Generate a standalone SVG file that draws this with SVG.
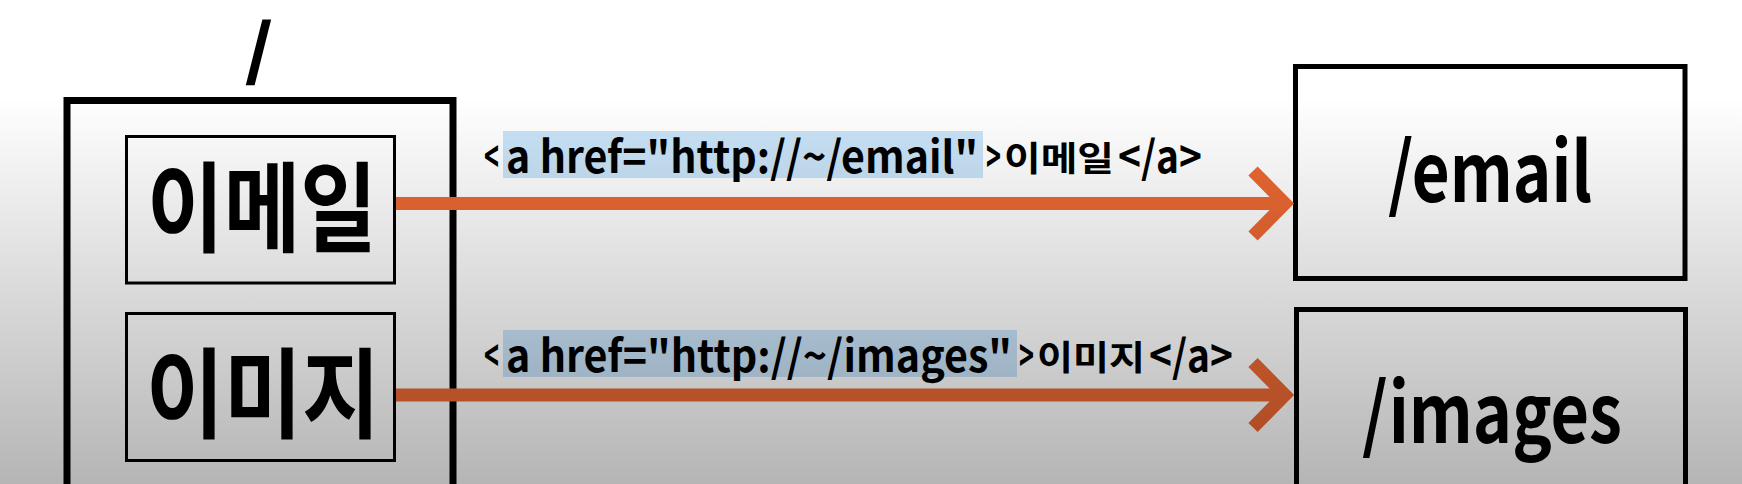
<svg xmlns="http://www.w3.org/2000/svg" width="1742" height="484" viewBox="0 0 1742 484">
  <defs>
    <linearGradient id="shade" x1="0" y1="0" x2="0" y2="484" gradientUnits="userSpaceOnUse">
      <stop offset="0" stop-color="#000" stop-opacity="0"/>
      <stop offset="0.2" stop-color="#000" stop-opacity="0"/>
      <stop offset="1" stop-color="#000" stop-opacity="0.29"/>
    </linearGradient>
    <style>
      .t { font-family: "Noto Sans CJK KR", "Noto Sans", sans-serif; font-weight: 700; fill: #000; }
      .box { fill: none; stroke: #000; }
      .conn { fill: none; stroke: #ec6833; stroke-width: 13; }
      .hl { fill: #c9e3f8; }
    </style>
  </defs>
  <rect x="0" y="0" width="1742" height="484" fill="#fff"/>

  <g id="root-page">
    <text class="t" x="259" y="72" font-size="64" text-anchor="middle" stroke="#000" stroke-width="2.5">/</text>
    <rect class="box" x="67" y="100.5" width="386" height="420" stroke-width="7"/>
  </g>

  <g id="node-email-link">
    <rect class="box" x="126.5" y="136.5" width="268" height="146.5" stroke-width="3"/>
    <text class="t" x="147" y="244" font-size="98" textLength="230" lengthAdjust="spacingAndGlyphs">이메일</text>
  </g>

  <g id="node-images-link">
    <rect class="box" x="126.5" y="313.5" width="268" height="147" stroke-width="3"/>
    <text class="t" x="146" y="430" font-size="98" textLength="234" lengthAdjust="spacingAndGlyphs">이미지</text>
  </g>

  <g id="node-email-page">
    <rect class="box" x="1295.5" y="66.5" width="389.5" height="212" stroke-width="5"/>
    <text class="t" x="1388" y="202" font-size="82" textLength="204" lengthAdjust="spacingAndGlyphs">/email</text>
  </g>

  <g id="node-images-page">
    <rect class="box" x="1296.5" y="309.5" width="389" height="220" stroke-width="5"/>
    <text class="t" x="1362" y="443" font-size="82" textLength="260" lengthAdjust="spacingAndGlyphs">/images</text>
  </g>

  <g id="connectors">
    <line class="conn" x1="396" y1="203.5" x2="1287" y2="203.5"/>
    <polyline class="conn" points="1253,171 1285,203.5 1253,236" stroke-linejoin="miter"/>
    <line class="conn" x1="396" y1="395" x2="1287" y2="395"/>
    <polyline class="conn" points="1253,362.5 1285,395 1253,427.5" stroke-linejoin="miter"/>
  </g>

  <g id="label-email">
    <rect class="hl" x="503" y="131" width="480" height="47"/>
    <text class="t" y="173" font-size="44"><tspan x="484" textLength="15" lengthAdjust="spacingAndGlyphs">&lt;</tspan><tspan x="506" textLength="472" lengthAdjust="spacingAndGlyphs">a href="http://~/email"</tspan><tspan x="986" textLength="15" lengthAdjust="spacingAndGlyphs">&gt;</tspan><tspan x="1004" y="171" font-size="34" textLength="110" lengthAdjust="spacingAndGlyphs">이메일</tspan><tspan x="1118" y="173" textLength="84" lengthAdjust="spacingAndGlyphs">&lt;/a&gt;</tspan></text>
  </g>

  <g id="label-images">
    <rect class="hl" x="503" y="330" width="514" height="47"/>
    <text class="t" y="372" font-size="44"><tspan x="484" textLength="15" lengthAdjust="spacingAndGlyphs">&lt;</tspan><tspan x="506" textLength="506" lengthAdjust="spacingAndGlyphs">a href="http://~/images"</tspan><tspan x="1019" textLength="15" lengthAdjust="spacingAndGlyphs">&gt;</tspan><tspan x="1037" y="370" font-size="34" textLength="108" lengthAdjust="spacingAndGlyphs">이미지</tspan><tspan x="1149" y="372" textLength="84" lengthAdjust="spacingAndGlyphs">&lt;/a&gt;</tspan></text>
  </g>

  <rect x="0" y="0" width="1742" height="484" fill="url(#shade)" pointer-events="none"/>
</svg>
